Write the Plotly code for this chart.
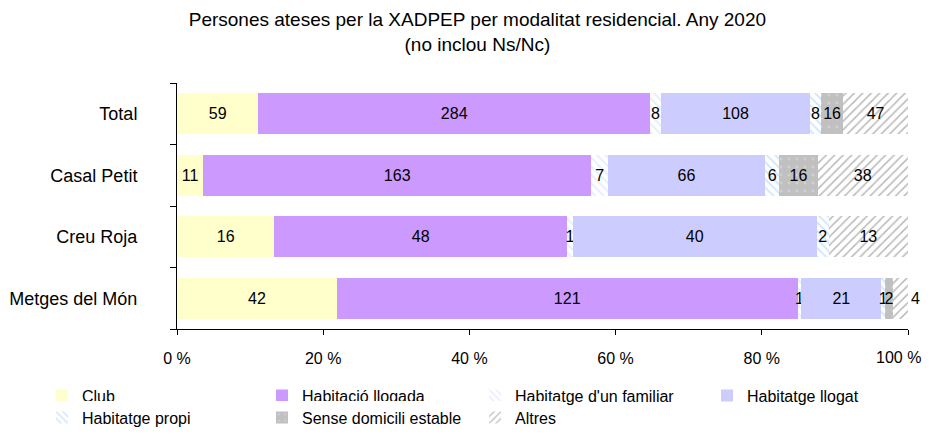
import plotly.graph_objects as go

categories = ["Total", "Casal Petit", "Creu Roja", "Metges del Món"]
series_names = ["Club", "Habitació llogada", "Habitatge d'un familiar", "Habitatge llogat",
                "Habitatge propi", "Sense domicili estable", "Altres"]
club = [59, 11, 16, 42]
habitacio_llogada = [284, 163, 48, 121]
habitatge_familiar = [8, 7, 1, 1]
habitatge_llogat = [108, 66, 40, 21]
habitatge_propi = [8, 6, 2, 1]
sense_domicili = [16, 16, 0, 2]
altres = [47, 38, 13, 4]
tick_vals = [0, 20, 40, 60, 80, 100]
tick_text = ["0 %", "20 %", "40 %", "60 %", "80 %", "100 %"]

FONT = "Liberation Sans, Arial, sans-serif"

series = [club, habitacio_llogada, habitatge_familiar, habitatge_llogat,
          habitatge_propi, sense_domicili, altres]
styles = [
    dict(color="#FFFFCC"),
    dict(color="#CC99FF"),
    dict(color="#FFFFFF", pattern=dict(shape="\\", fgcolor="#C8D8FF", bgcolor="#FFFFFF", size=6, solidity=0.3)),
    dict(color="#CCCCFF"),
    dict(color="#FFFFFF", pattern=dict(shape="\\", fgcolor="#99CCFF", bgcolor="#FFFFFF", size=6, solidity=0.3)),
    dict(color="#C0C0C0", pattern=dict(shape=".", fgcolor="#E0E0E0", bgcolor="#C0C0C0", size=8, solidity=0.1)),
    dict(color="#FFFFFF", pattern=dict(shape="/", fgcolor="#707070", bgcolor="#FFFFFF", size=6, solidity=0.25)),
]

W, H = 915, 419
# one single-entry legend per series, placed in a 4-column grid like the original
legend_ids = ["legend", "legend2", "legend3", "legend4", "legend5", "legend6", "legend7"]
col_x = [34, 254, 467, 699]
row_y = [0.1155, 0.063]
legend_pos = [(col_x[0], row_y[0]), (col_x[1], row_y[0]), (col_x[2], row_y[0]), (col_x[3], row_y[0]),
              (col_x[0], row_y[1]), (col_x[1], row_y[1]), (col_x[2], row_y[1])]

fig = go.Figure()
for name, vals, st, lg in zip(series_names, series, styles, legend_ids):
    texts = [str(v) if v > 0 else "" for v in vals]
    positions = ["inside"] * len(vals)
    if name == "Altres":
        positions = ["inside", "inside", "inside", "outside"]
    fig.add_trace(go.Bar(
        y=categories, x=vals, name=name, orientation="h", legend=lg,
        marker=dict(line=dict(width=0), **st),
        text=texts, textposition=positions, insidetextanchor="middle",
        constraintext="none", cliponaxis=False, textangle=0,
        textfont=dict(family=FONT, size=16, color="black"),
        outsidetextfont=dict(family=FONT, size=16, color="black"),
    ))

legend_layout = {}
for lg, (lx, ly) in zip(legend_ids, legend_pos):
    legend_layout[lg] = dict(orientation="h", xref="container", yref="container",
                             x=lx / W, xanchor="left", y=ly, yanchor="top",
                             font=dict(size=16), tracegroupgap=0)

# the last tick label would overflow the page edge, so it is drawn as an annotation at x=100
axis_ticktext = tick_text[:-1] + [""]

fig.update_layout(
    barmode="stack", barnorm="percent", bargap=0.33,
    width=W, height=H,
    margin=dict(l=169, r=15, t=75, b=98),
    paper_bgcolor="white", plot_bgcolor="white",
    font=dict(family=FONT, size=16, color="black"),
    title=dict(text="Persones ateses per la XADPEP per modalitat residencial. Any 2020<br>(no inclou Ns/Nc)",
               xref="container", yref="container",
               x=0.513, xanchor="center", y=0.957, yanchor="top",
               font=dict(size=19, color="black")),
    xaxis=dict(range=[0, 100], tickvals=tick_vals, ticktext=axis_ticktext,
               showgrid=False, zeroline=False, showline=True, linecolor="black",
               ticks="outside", ticklen=5, tickcolor="black", tickfont=dict(size=16),
               ticklabelstandoff=10, automargin=False),
    yaxis=dict(categoryorder="array", categoryarray=categories[::-1],
               showgrid=False, showline=True, linecolor="black",
               ticks="outside", tickson="boundaries", ticklen=6, tickcolor="black",
               tickfont=dict(size=18), ticklabelstandoff=35, automargin=False),
    annotations=[dict(x=tick_vals[-1], xref="x", y=0, yref="paper", text=tick_text[-1],
                      showarrow=False, xanchor="right", yanchor="middle",
                      xshift=15, yshift=-28, font=dict(size=16, color="black"))],
    showlegend=True,
    **legend_layout,
)

fig.write_html("out.html")
